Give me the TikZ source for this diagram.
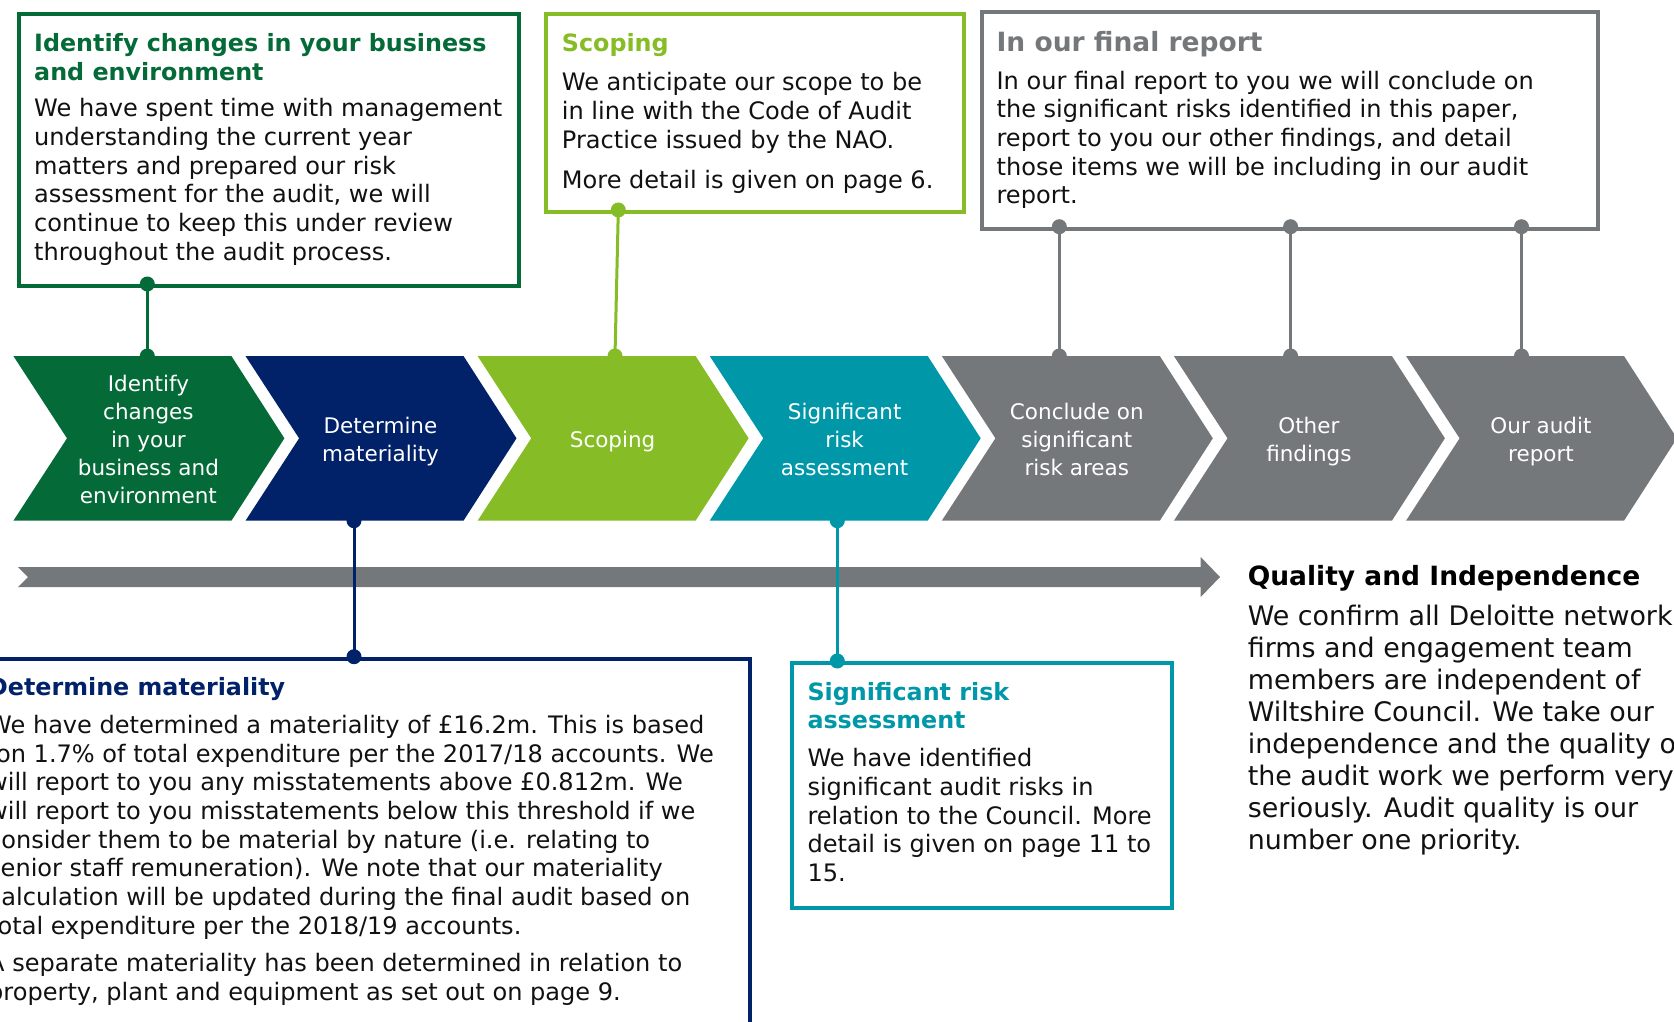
\documentclass[tikz,border=0pt]{standalone}
\usepackage{fontspec}
\setmainfont{DejaVu Sans}
\definecolor{dgreen}{HTML}{046A38}
\definecolor{lgreen}{HTML}{86BC25}
\definecolor{navy}{HTML}{012169}
\definecolor{teal}{HTML}{0097A9}
\definecolor{cgray}{HTML}{75787B}
\definecolor{txt}{HTML}{111111}
\newcommand{\txtl}[1]{\begin{tabular}[t]{@{}l@{}}#1\end{tabular}}
\newcommand{\txtc}[1]{\begin{tabular}{@{}c@{}}#1\end{tabular}}
\newcommand{\chevpath}[2]{\fill[#2] (#1,356) -- ++(218,0) -- ++(53,82.3) -- ++(-53,82.4) -- ++(-218,0) -- ++(53.6,-82.4) -- cycle;}
\begin{document}
\begin{tikzpicture}[x=1bp,y=-1bp,
  box/.style={draw=#1, line width=4bp, inner sep=0, anchor=north west},
  conn/.style={draw=#1, line width=3bp},
  body/.style={anchor=base west, inner sep=0, text=txt, font=\fontsize{24.05bp}{28.7bp}\selectfont},
  ttl/.style={anchor=base west, inner sep=0, text=#1, font=\fontsize{23.8bp}{28.5bp}\selectfont\bfseries},
  chevtxt/.style={inner sep=0, text=white, font=\fontsize{21.5bp}{28bp}\selectfont},
  qi/.style={anchor=base west, inner sep=0, text=txt, font=\fontsize{26.9bp}{32bp}\selectfont},
  qit/.style={anchor=base west, inner sep=0, text=black, font=\fontsize{26.5bp}{32bp}\selectfont\bfseries}]
\useasboundingbox (0,0) rectangle (1674,1021);
\clip (0,0) rectangle (1674,1021);

% ---------- top boxes ----------
\node[box=dgreen, minimum width=499.5bp, minimum height=272bp] (box1) at (17,12) {};
\node[ttl=dgreen] (box1t) at (34,51.7) {\txtl{Identify changes in your business\\and environment}};
\node[body] (box1b) at (34,116.7) {\txtl{We have spent time with management\\understanding the current year\\matters and prepared our risk\\assessment for the audit, we will\\continue to keep this under review\\throughout the audit process.}};

\node[box=lgreen, minimum width=418bp, minimum height=198bp] (box2) at (544,12) {};
\node[ttl=lgreen] (box2t) at (561.7,51.7) {Scoping};
\node[body] (box2b) at (561.7,90.7) {\txtl{We anticipate our scope to be\\in line with the Code of Audit\\Practice issued by the NAO.\\[11.3bp]More detail is given on page 6.}};

\node[box=cgray, minimum width=615.5bp, minimum height=216.7bp] (box3) at (980,10) {};
\node[ttl=cgray, font=\fontsize{26.5bp}{30bp}\selectfont\bfseries] (box3t) at (996.4,51.7) {In our final report};
\node[body] (box3b) at (996.4,89) {\txtl{In our final report to you we will conclude on\\the significant risks identified in this paper,\\report to you our other findings, and detail\\those items we will be including in our audit\\report.}};

% ---------- bottom boxes ----------
\node[box=navy, minimum width=788bp, minimum height=400bp] (box4) at (-40,656.7) {};
\node[ttl=navy] (box4t) at (-12,695.7) {Determine materiality};
\node[body] (box4b) at (-12,733.3) {\txtl{We have determined a materiality of £16.2m. This is based\\\hspace*{0.33em}on 1.7\% of total expenditure per the 2017/18 accounts. We\\will report to you any misstatements above £0.812m. We\\will report to you misstatements below this threshold if we\\consider them to be material by nature (i.e. relating to\\senior staff remuneration). We note that our materiality\\calculation will be updated during the final audit based on\\total expenditure per the 2018/19 accounts.\\[9bp]A separate materiality has been determined in relation to\\property, plant and equipment as set out on page 9.}};

\node[box=teal, minimum width=379.6bp, minimum height=245bp] (box5) at (790.2,661) {};
\node[ttl=teal] (box5t) at (807.3,700) {\txtl{Significant risk\\assessment}};
\node[body] (box5b) at (807.3,766.7) {\txtl{We have identified\\significant audit risks in\\relation to the Council. More\\detail is given on page 11 to\\15.}};

% ---------- quality text ----------
\node[qit] (qt) at (1247.6,585) {Quality and Independence};
\node[qi] (qb) at (1247.6,625) {\txtl{We confirm all Deloitte network\\firms and engagement team\\members are independent of\\Wiltshire Council. We take our\\independence and the quality of\\the audit work we perform very\\seriously. Audit quality is our\\number one priority.}};

% ---------- timeline bar ----------
\fill[cgray] (18,567) -- (1200.7,567) -- (1200.7,557) -- (1220,577) -- (1200.7,597) -- (1200.7,587) -- (18,587) -- (28,577) -- cycle;

% ---------- connector coordinates ----------
\coordinate (d1a) at (147.3,284);   \coordinate (d1b) at (147.3,356);
\coordinate (d2a) at (618.3,210);   \coordinate (d2b) at (615,356);
\coordinate (d3a) at (1059.3,226.7); \coordinate (d3b) at (1059.3,356);
\coordinate (d4a) at (1290.6,226.7); \coordinate (d4b) at (1290.6,356);
\coordinate (d5a) at (1521.5,226.7); \coordinate (d5b) at (1521.5,356);
\coordinate (d6a) at (354,520.7);   \coordinate (d6b) at (354,656.7);
\coordinate (d7a) at (837.3,520.7); \coordinate (d7b) at (837.3,661);

\draw[conn=dgreen] (d1a) -- (d1b);
\draw[conn=lgreen] (d2a) -- (d2b);
\draw[conn=cgray] (d3a) -- (d3b);
\draw[conn=cgray] (d4a) -- (d4b);
\draw[conn=cgray] (d5a) -- (d5b);
\draw[conn=navy] (d6a) -- (d6b);
\draw[conn=teal] (d7a) -- (d7b);

\foreach \p/\c in {d1a/dgreen,d1b/dgreen,d2a/lgreen,d2b/lgreen,d3a/cgray,d3b/cgray,d4a/cgray,d4b/cgray,d5a/cgray,d5b/cgray,d6a/navy,d6b/navy,d7a/teal,d7b/teal}
  \fill[\c] (\p) circle[radius=7.5bp];

% ---------- chevrons ----------
\chevpath{13.4}{dgreen}
\chevpath{245.5}{navy}
\chevpath{477.6}{lgreen}
\chevpath{709.7}{teal}
\chevpath{941.8}{cgray}
\chevpath{1173.9}{cgray}
\chevpath{1406.0}{cgray}

\node[chevtxt] (c1) at (148.4,441.5) {\txtc{Identify\\changes\\in your\\business and\\environment}};
\node[chevtxt] (c2) at (380.5,441.5) {\txtc{Determine\\materiality}};
\node[chevtxt] (c3) at (612.6,441.5) {\txtc{Scoping}};
\node[chevtxt] (c4) at (844.7,441.5) {\txtc{Significant\\risk\\assessment}};
\node[chevtxt] (c5) at (1076.8,441.5) {\txtc{Conclude on\\significant\\risk areas}};
\node[chevtxt] (c6) at (1308.9,441.5) {\txtc{Other\\findings}};
\node[chevtxt] (c7) at (1541.0,441.5) {\txtc{Our audit\\report}};
\end{tikzpicture}
\end{document}
